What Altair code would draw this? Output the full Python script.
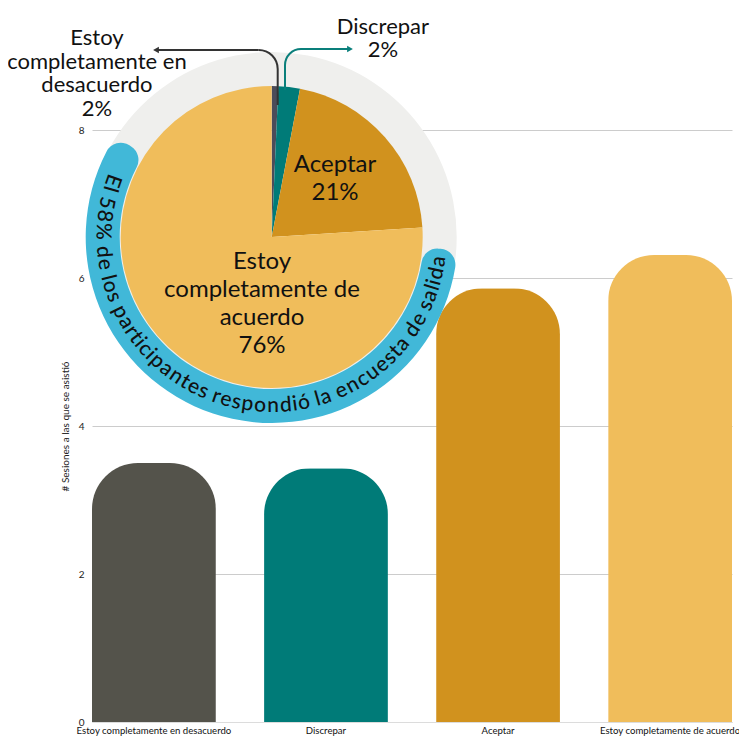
import math
import altair as alt
import pandas as pd

# ---------------- data ----------------
categories = [
    "Estoy completamente en desacuerdo",
    "Discrepar",
    "Aceptar",
    "Estoy completamente de acuerdo",
]
sessions = [3.5, 3.43, 5.86, 6.31]
bar_colors = ["#54534b", "#007b78", "#d1921e", "#f0bd5b"]

pie_names = categories
pie_share = [0.7, 2.3, 21.0, 76.0]          # slice sizes as drawn
pie_pct = ["2%", "2%", "21%", "76%"]         # printed labels
pie_colors = ["#4b4c5a", "#007b78", "#d1921e", "#f0bd5b"]

response_rate = 58
arc_text = "El 58% de los participantes respondió la encuesta de salida"

# ---------------- layout ----------------
FONT = "Lato"
W_PLOT, H_PLOT = 640, 592
CX, CY = 179.7, 107          # pie centre (plot pixels)
R_PIE, R_RING = 151, 185

# ---------------- bars ----------------
bar_df = pd.DataFrame({"cat": categories, "val": sessions, "color": bar_colors})
bars = alt.Chart(bar_df).mark_bar(
    cornerRadiusTopLeft=46, cornerRadiusTopRight=46
).encode(
    x=alt.X("cat:N", sort=categories,
            scale=alt.Scale(paddingInner=0.28, paddingOuter=0),
            axis=alt.Axis(title=None, labelAngle=0, ticks=False,
                          domainColor="#dcdcdc", labelFont=FONT,
                          labelFontSize=9.6, labelColor="#111",
                          labelPadding=3, labelLimit=300)),
    y=alt.Y("val:Q", scale=alt.Scale(domain=[0, 8]),
            axis=alt.Axis(values=[0, 2, 4, 6, 8], format="d",
                          title="# Sesiones a las que se asistió",
                          titleFont=FONT, titleFontSize=10,
                          titleFontWeight="normal", titleColor="#222",
                          titlePadding=8, labelFont=FONT, labelFontSize=10,
                          labelColor="#222", labelPadding=8,
                          gridColor="#cccccc", domain=False, ticks=False)),
    color=alt.Color("color:N", scale=None),
)

one = pd.DataFrame({"k": [0]})

# gray ring
ring = alt.Chart(one).mark_arc(
    color="#efefed", theta=0, theta2=2 * math.pi,
    radius=R_RING, radius2=R_PIE - 1
).encode(x=alt.value(CX), y=alt.value(CY))

# blue response-rate arc
blue_start = math.radians(94)
blue_end = blue_start + response_rate / 100 * 2 * math.pi
blue = alt.Chart(one).mark_arc(
    color="#41b8d8", theta=blue_start, theta2=blue_end,
    radius=R_RING + 1, radius2=R_PIE + 1, cornerRadius=16
).encode(x=alt.value(CX), y=alt.value(CY))

# pie
pie_df = pd.DataFrame({"name": pie_names, "share": pie_share,
                       "color": pie_colors, "idx": list(range(4))})
pie = alt.Chart(pie_df).mark_arc(radius=R_PIE).encode(
    theta=alt.Theta("share:Q", stack=True, scale=alt.Scale(domain=[0, 100])),
    order=alt.Order("idx:Q"),
    color=alt.Color("color:N", scale=None),
    x=alt.value(CX), y=alt.value(CY),
)

# curved text along the blue arc
cw = {" ": 0.22, "E": 0.53, "l": 0.24, "5": 0.58, "8": 0.58, "%": 0.80,
      "d": 0.57, "e": 0.53, "o": 0.56, "s": 0.42, "p": 0.57, "a": 0.51,
      "r": 0.36, "t": 0.35, "i": 0.24, "c": 0.46, "n": 0.57, "ó": 0.56,
      "u": 0.57}
widths = [cw.get(c, 0.55) for c in arc_text]
centers = []
acc = 0.0
for w in widths:
    centers.append(acc + w / 2)
    acc += w
a0, a1 = 289.5, 98.3
c0, c1 = centers[0], centers[-1]
degs = [a0 - (c - c0) / (c1 - c0) * (a0 - a1) for c in centers]
char_df = pd.DataFrame({
    "ch": list(arc_text),
    "deg": degs,
    "rot": [(d - 180) % 360 for d in degs],
})
char_df = char_df[char_df["ch"] != " "]
curved = alt.Chart(char_df).mark_text(
    font=FONT, fontSize=21, fontWeight=500, color="#111",
    align="center", baseline="middle"
).encode(
    text="ch:N",
    theta=alt.Theta("deg:Q", scale=alt.Scale(domain=[0, 360], range=[0, 2 * math.pi])),
    radius=alt.value(169),
    angle=alt.Angle("rot:Q", scale=None),
    x=alt.value(CX), y=alt.value(CY),
)

# pie labels (inside) -- anchor = first line
inner_df = pd.DataFrame({
    "text": [f"{pie_names[2]}\n{pie_pct[2]}",
             "Estoy\ncompletamente de\nacuerdo\n" + pie_pct[3]],
    "deg": [41.3, 201.2],
    "r": [95.9, 26.8],
})
inner = alt.Chart(inner_df).mark_text(
    font=FONT, fontSize=24, lineHeight=28, color="#111",
    align="center", baseline="middle", lineBreak="\n"
).encode(
    text="text:N",
    theta=alt.Theta("deg:Q", scale=alt.Scale(domain=[0, 360], range=[0, 2 * math.pi])),
    radius=alt.Radius("r:Q", scale=None),
    x=alt.value(CX), y=alt.value(CY),
)

# pie labels (outside) -- anchor = first line
outer_df = pd.DataFrame({
    "text": ["Estoy\ncompletamente en\ndesacuerdo\n" + pie_pct[0],
             f"{pie_names[1]}\n{pie_pct[1]}"],
    "deg": [318.7, 27.9],
    "r": [264.8, 237.7],
})
outer = alt.Chart(outer_df).mark_text(
    font=FONT, fontSize=22, lineHeight=23.5, color="#111",
    align="center", baseline="middle", lineBreak="\n"
).encode(
    text="text:N",
    theta=alt.Theta("deg:Q", scale=alt.Scale(domain=[0, 360], range=[0, 2 * math.pi])),
    radius=alt.Radius("r:Q", scale=None),
    x=alt.value(CX), y=alt.value(CY),
)

# leader arrows
def arrow(xv, y_bottom, y_h, x_end, r, color, direction):
    sign = -1 if direction == "left" else 1
    layers = []
    layers.append(alt.Chart(one).mark_rule(color=color, strokeWidth=2).encode(
        x=alt.value(xv), y=alt.value(y_bottom), y2=alt.value(y_h + r)))
    if direction == "left":
        t0, t1 = 0.0, math.pi / 2
    else:
        t0, t1 = 1.5 * math.pi, 2 * math.pi
    layers.append(alt.Chart(one).mark_arc(
        color=color, theta=t0, theta2=t1, radius=r + 1, radius2=r - 1
    ).encode(x=alt.value(xv + sign * r), y=alt.value(y_h + r)))
    layers.append(alt.Chart(one).mark_rule(color=color, strokeWidth=2).encode(
        x=alt.value(xv + sign * r), x2=alt.value(x_end), y=alt.value(y_h)))
    layers.append(alt.Chart(one).mark_point(
        shape="triangle-left" if direction == "left" else "triangle-right",
        filled=True, opacity=1, color=color, size=45
    ).encode(x=alt.value(x_end), y=alt.value(y_h)))
    return layers

arrows = arrow(185.7, -25, -80, 64, 19, "#333333", "left") + \
         arrow(193, -40, -81, 258, 16, "#0a7f7b", "right")

chart = alt.layer(
    bars, ring, blue, pie, curved, inner, outer, *arrows
).resolve_scale(theta="independent").properties(
    width=W_PLOT, height=H_PLOT,
    autosize=alt.AutoSizeParams(type="none"),
    padding={"left": 84, "top": 122, "right": 7, "bottom": 15},
).configure_view(stroke=None)

chart.save("out.html", embed_options={"renderer": "svg", "actions": False})
